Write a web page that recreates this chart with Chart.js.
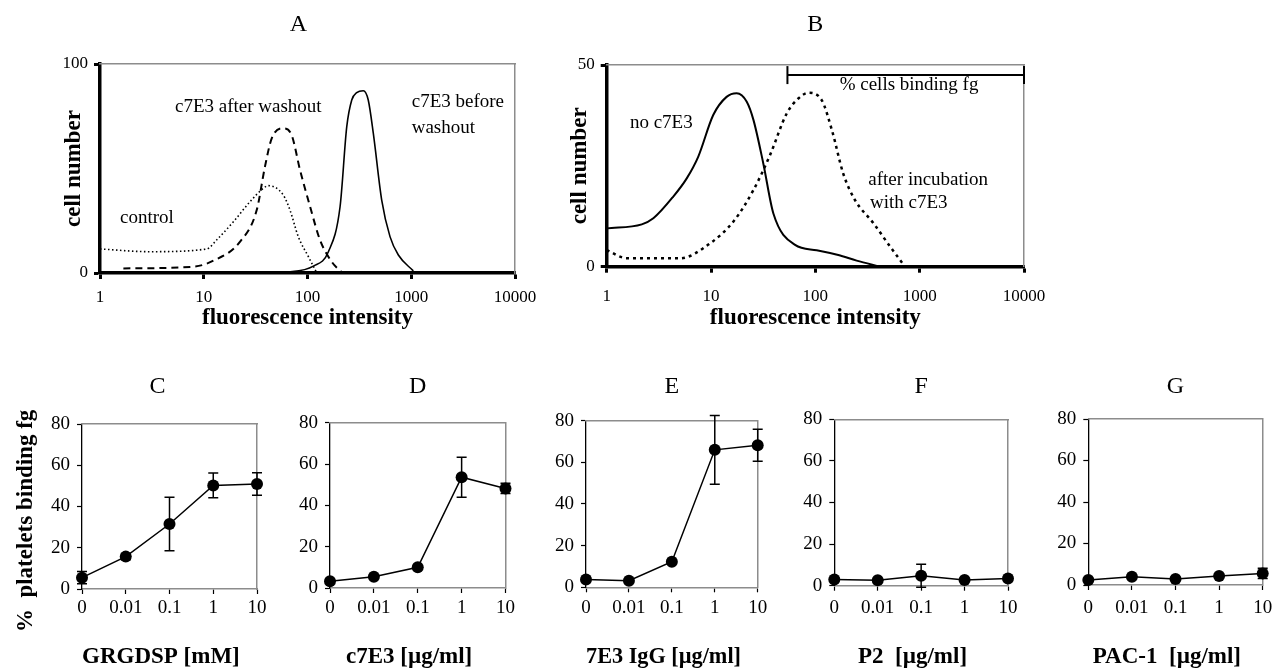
<!DOCTYPE html>
<html>
<head>
<meta charset="utf-8">
<script src="https://cdn.jsdelivr.net/npm/chart.js@4.4.1/dist/chart.umd.min.js"></script>
<style>
  html, body { margin: 0; padding: 0; background: #fff; }
  body { width: 1273px; height: 672px; position: relative; overflow: hidden; }
  .panel { position: absolute; }
</style>
</head>
<body>
<div class="panel" id="pA"><canvas id="cA"></canvas></div>
<div class="panel" id="pB"><canvas id="cB"></canvas></div>
<div class="panel" id="pC"><canvas id="cC"></canvas></div>
<div class="panel" id="pD"><canvas id="cD"></canvas></div>
<div class="panel" id="pE"><canvas id="cE"></canvas></div>
<div class="panel" id="pF"><canvas id="cF"></canvas></div>
<div class="panel" id="pG"><canvas id="cG"></canvas></div>
<script>
// ---- data ----
const decades = [1, 10, 100, 1000, 10000];

// A: flow histograms
const aControlX = [1, 3, 10.7, 13.3, 19.3, 27.9, 37.5, 41.9, 58.4, 67.8, 81.5, 102, 123];
const aControlY = [11.5, 10.2, 11.5, 15.8, 24.5, 34.1, 40.5, 41.8, 37.3, 30.1, 17.4, 7.8, 0];
const aAfterX = [1.68, 7.9, 12.4, 22.4, 32.4, 38.9, 45.2, 58.4, 70.3, 84.7, 106, 132, 171, 214];
const aAfterY = [2.2, 3, 5.9, 15, 30.1, 50.9, 64.4, 69.2, 66, 49.3, 31.7, 15.8, 5.4, 0.3];
const aBeforeX = [56.4, 114, 159, 206, 239, 267, 298, 345, 385, 431, 519, 624, 751, 1047];
const aBeforeY = [0, 3.3, 10.2, 31.7, 70, 82.8, 86.3, 87.2, 82.8, 66.8, 34.9, 17.4, 8.6, 1];

// B: flow histograms
const bNoX = [1, 2.17, 2.8, 4.35, 5.85, 7.55, 10.5, 14.1, 17.6, 22, 25.5, 31.7, 39.6, 63.9, 103, 166, 249, 417];
const bNoY = [9.5, 10.5, 12, 17.4, 21.9, 27.3, 37.6, 42.1, 43, 40.9, 36.4, 25.6, 13.2, 5.4, 4.1, 2.9, 1.5, 0];
const bIncX = [1, 1.56, 5.05, 9.8, 16.4, 25.5, 36.8, 53.2, 68.7, 85.7, 115, 144, 185, 240, 360, 520, 724];
const bIncY = [4.1, 2.1, 2.1, 5.8, 11.2, 19, 27.7, 38, 41.7, 43.1, 41.3, 33.9, 23.1, 16.5, 10.8, 5, 0];
const bGateX = [54, 10000];
const bGateY = [47.5, 47.5];

// C-G: % platelets binding fg vs dose
const doseLabels = ['0', '0.01', '0.1', '1', '10'];
const grgdsp = [5.5, 15.7, 31.5, 50.2, 50.9];
const grgdspErr = [3, 1.5, 13, 6, 5.5];
const c7e3 = [3.3, 5.5, 10, 53.6, 48.2];
const c7e3Err = [0, 0, 0, 9.7, 2.5];
const igg7e3 = [3.8, 3.2, 12.3, 66, 68.2];
const igg7e3Err = [0, 0, 0, 16.5, 7.7];
const p2 = [3, 2.6, 4.8, 2.7, 3.5];
const p2Err = [0, 0, 5.5, 0, 0];
const pac1 = [2.4, 4, 2.9, 4.3, 5.6];
const pac1Err = [0, 0, 0, 0, 2.5];

// ---- helpers ----
const SERIF = "'Liberation Serif', 'Times New Roman', serif";
Chart.defaults.font.family = SERIF;
Chart.defaults.color = '#000';

const xy = (xs, ys) => xs.map((x, i) => ({x: x, y: ys[i]}));

function fixed(size, vertical) {
  return s => {
    if (vertical) s.width = size; else s.height = size;
    s.paddingLeft = 0; s.paddingRight = 0; s.paddingTop = 0; s.paddingBottom = 0;
  };
}

function frameAxis(position) {
  return {
    type: 'linear', position: position, min: 0, max: 1,
    ticks: {display: false},
    grid: {drawOnChartArea: false, drawTicks: false},
    border: {display: true, color: '#8c8c8c', width: 1.5, dash: [1.5, 1]},
    afterFit: fixed(0, position === 'right')
  };
}

// works out the layout padding so the plot area lands on "area"
function place(id, box, area, yWidth, xHeight, titleY) {
  const el = document.getElementById(id);
  el.style.left = box.left + 'px';
  el.style.top = box.top + 'px';
  el.style.width = box.width + 'px';
  el.style.height = box.height + 'px';
  const lh = 24 * 1.2;
  return {
    xHeight: xHeight, yWidth: yWidth,
    padding: {
      left: area.l - box.left - yWidth,
      right: box.left + box.width - area.r,
      top: titleY - lh / 2 - box.top,
      bottom: box.top + box.height - area.b - xHeight
    },
    titlePad: {top: 0, bottom: area.t - titleY - lh / 2}
  };
}

const errorBars = {
  id: 'errorBars',
  afterDatasetsDraw(chart) {
    const ctx = chart.ctx;
    chart.data.datasets.forEach((ds, i) => {
      if (!ds.errorBars) return;
      const meta = chart.getDatasetMeta(i);
      const ys = chart.scales[meta.yAxisID];
      ctx.save();
      ctx.strokeStyle = '#000';
      ctx.lineWidth = 1.5;
      meta.data.forEach((pt, j) => {
        const e = ds.errorBars[j];
        if (!e) return;
        const top = ys.getPixelForValue(ds.data[j] + e);
        const bot = ys.getPixelForValue(ds.data[j] - e);
        ctx.beginPath();
        ctx.moveTo(pt.x, top); ctx.lineTo(pt.x, bot);
        ctx.moveTo(pt.x - 5, top); ctx.lineTo(pt.x + 5, top);
        ctx.moveTo(pt.x - 5, bot); ctx.lineTo(pt.x + 5, bot);
        ctx.stroke();
      });
      ctx.restore();
    });
  }
};

const textLabels = {
  id: 'textLabels',
  afterDatasetsDraw(chart, args, opts) {
    if (!opts.items) return;
    const ctx = chart.ctx, xs = chart.scales.x, ys = chart.scales.y;
    ctx.save();
    ctx.font = '19px ' + SERIF;
    ctx.fillStyle = '#000';
    ctx.textBaseline = 'middle';
    opts.items.forEach(it => {
      ctx.textAlign = it.align || 'left';
      ctx.fillText(it.text, xs.getPixelForValue(it.x), ys.getPixelForValue(it.y));
    });
    ctx.restore();
  }
};

function histOptions(lay, letter, yMax, labelPad, items) {
  return {
    responsive: true, maintainAspectRatio: false, animation: false, events: [],
    layout: {padding: lay.padding},
    elements: {
      point: {radius: 0},
      line: {borderColor: '#000', cubicInterpolationMode: 'monotone', fill: false}
    },
    plugins: {
      legend: {display: false},
      tooltip: {enabled: false},
      title: {display: true, text: letter, fullSize: false, font: {size: 24, weight: 'normal'}, padding: lay.titlePad},
      textLabels: {items: items}
    },
    scales: {
      x: {
        type: 'logarithmic', position: 'bottom', min: 1, max: 10000,
        afterBuildTicks: s => { s.ticks = decades.map(v => ({value: v})); },
        ticks: {callback: v => String(v), font: {size: 17}, padding: labelPad, maxRotation: 0, autoSkip: false},
        grid: {drawOnChartArea: false, tickLength: 6, tickWidth: 3, color: '#000'},
        border: {color: '#000', width: 3.5},
        title: {display: true, text: 'fluorescence intensity', font: {size: 23, weight: 'bold'}, padding: {top: 0, bottom: 0}},
        afterFit: fixed(lay.xHeight, false)
      },
      y: {
        type: 'linear', position: 'left', min: 0, max: yMax,
        ticks: {stepSize: yMax, font: {size: 17}, padding: 6},
        grid: {drawOnChartArea: false, tickLength: 6, tickWidth: 3, color: '#000'},
        border: {color: '#000', width: 3.5},
        title: {display: true, text: 'cell number', font: {size: 23, weight: 'bold'}, padding: {top: 0, bottom: 0}},
        afterFit: fixed(lay.yWidth, true)
      },
      x2: frameAxis('top'),
      y2: frameAxis('right')
    }
  };
}

// ---- panel A ----
const layA = place('pA', {left: 0, top: 0, width: 540, height: 340}, {l: 100, t: 64, r: 515, b: 273}, 40, 58.8, 25);
new Chart(document.getElementById('cA'), {
  type: 'line',
  data: {datasets: [
    {data: xy(aControlX, aControlY), borderWidth: 1.6, borderDash: [1.5, 2.5], clip: false, xAxisID: 'x', yAxisID: 'y'},
    {data: xy(aAfterX, aAfterY), borderWidth: 2, borderDash: [7, 5], clip: false, xAxisID: 'x', yAxisID: 'y'},
    {data: xy(aBeforeX, aBeforeY), borderWidth: 1.6, clip: false, xAxisID: 'x', yAxisID: 'y'}
  ]},
  options: histOptions(layA, 'A   ', 100, 8, [
    {text: 'control', x: 1.56, y: 26.3},
    {text: 'c7E3 after washout', x: 5.28, y: 79.6},
    {text: 'c7E3 before', x: 1010, y: 82},
    {text: 'washout', x: 1010, y: 69.2}
  ]),
  plugins: [textLabels]
});

// ---- panel B ----
const layB = place('pB', {left: 540, top: 0, width: 733, height: 340}, {l: 606.7, t: 65, r: 1024, b: 266.7}, 40, 65.1, 25);
new Chart(document.getElementById('cB'), {
  type: 'line',
  data: {datasets: [
    {data: xy(bNoX, bNoY), borderWidth: 2, clip: false, xAxisID: 'x', yAxisID: 'y'},
    {data: xy(bIncX, bIncY), borderWidth: 2.5, borderDash: [3, 4], clip: false, xAxisID: 'x', yAxisID: 'y'},
    {data: xy(bGateX, bGateY), borderWidth: 2, pointStyle: 'line', pointRadius: 9, pointRotation: 90,
     pointBorderWidth: 2, pointBorderColor: '#000', clip: false, xAxisID: 'x', yAxisID: 'y'}
  ]},
  options: histOptions(layB, 'B', 50, 14, [
    {text: 'no c7E3', x: 1.67, y: 35.5},
    {text: 'after incubation', x: 322, y: 21.5},
    {text: 'with c7E3', x: 334, y: 15.7},
    {text: '% cells binding fg', x: 791, y: 45, align: 'center'}
  ]),
  plugins: [textLabels]
});

// ---- panels C-G ----
function doseChart(id, box, area, letter, xTitle, values, errors, yTitle) {
  const yW = yTitle ? 70 : 40;
  const lay = place(id, box, area, yW, 657 - area.b + 13.8, 387);
  new Chart(document.getElementById('c' + id.slice(1)), {
    type: 'line',
    data: {labels: doseLabels, datasets: [{
      data: values, errorBars: errors,
      borderColor: '#000', borderWidth: 1.5, tension: 0,
      pointRadius: 6, pointBackgroundColor: '#000', pointBorderColor: '#000', pointBorderWidth: 0,
      clip: false, xAxisID: 'x', yAxisID: 'y'
    }]},
    options: {
      responsive: true, maintainAspectRatio: false, animation: false, events: [],
      layout: {padding: lay.padding},
      plugins: {
        legend: {display: false},
        tooltip: {enabled: false},
        title: {display: true, text: letter, fullSize: false, font: {size: 24, weight: 'normal'}, padding: lay.titlePad}
      },
      scales: {
        x: {
          type: 'category', position: 'bottom', offset: false,
          ticks: {font: {size: 19}, padding: 608 - area.b - 16.4, maxRotation: 0, autoSkip: false},
          grid: {drawOnChartArea: false, tickLength: 5, tickWidth: 1.2, color: '#000'},
          border: {color: '#8c8c8c', width: 1.5, dash: [1.5, 1]},
          title: {display: true, text: xTitle, font: {size: 23, weight: 'bold'}, padding: {top: 0, bottom: 0}},
          afterFit: fixed(lay.xHeight, false)
        },
        y: {
          type: 'linear', position: 'left', min: 0, max: 80,
          ticks: {stepSize: 20, font: {size: 19}, padding: 7},
          grid: {drawOnChartArea: false, tickLength: 5, tickWidth: 1.2, color: '#000'},
          border: {color: '#000', width: 1.3},
          title: {display: !!yTitle, text: yTitle || '', font: {size: 23, weight: 'bold'}, padding: {top: 0, bottom: 0}},
          afterFit: fixed(yW, true)
        },
        x2: frameAxis('top'),
        y2: frameAxis('right')
      }
    },
    plugins: [errorBars]
  });
}

doseChart('pC', {left: 0, top: 360, width: 290, height: 312}, {l: 82, t: 424, r: 257, b: 589},
  'C    ', 'GRGDSP [mM]   ', grgdsp, grgdspErr, '%  platelets binding fg     ');
doseChart('pD', {left: 290, top: 360, width: 230, height: 312}, {l: 330, t: 422.7, r: 505.5, b: 588},
  'D', 'c7E3 [\u00b5g/ml]   ', c7e3, c7e3Err);
doseChart('pE', {left: 530, top: 360, width: 240, height: 312}, {l: 586, t: 420.7, r: 757.7, b: 587.3},
  'E', '7E3 IgG [\u00b5g/ml]   ', igg7e3, igg7e3Err);
doseChart('pF', {left: 770, top: 360, width: 250, height: 312}, {l: 834.3, t: 419.3, r: 1008, b: 585.7},
  'F', 'P2  [\u00b5g/ml]   ', p2, p2Err);
doseChart('pG', {left: 1020, top: 360, width: 253, height: 312}, {l: 1088.3, t: 419, r: 1262.7, b: 585},
  'G', 'PAC-1  [\u00b5g/ml]   ', pac1, pac1Err);
</script>
</body>
</html>
